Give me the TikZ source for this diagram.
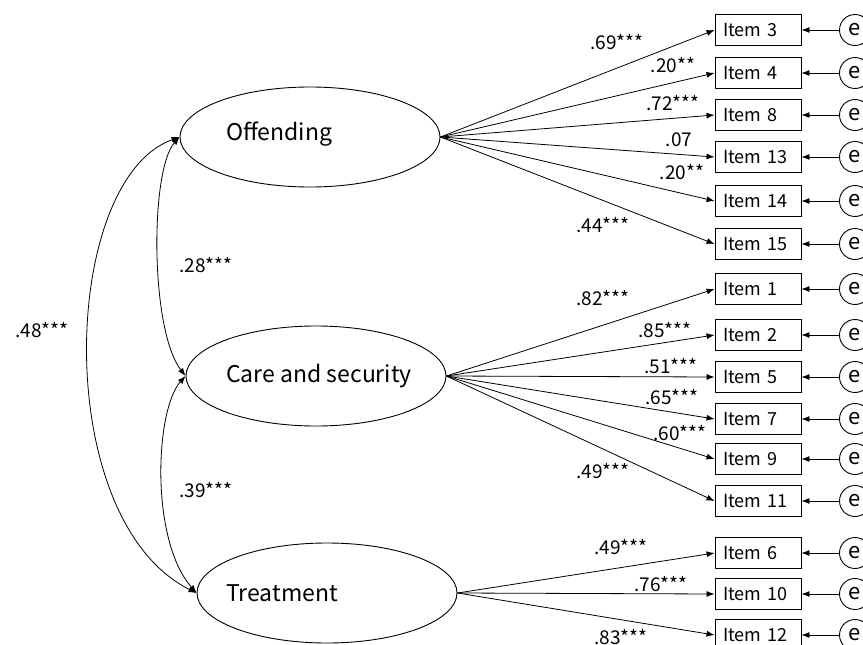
\documentclass[tikz,border=0pt]{standalone}
\usepackage{fontspec}
\setmainfont{Noto Sans CJK JP}
\usetikzlibrary{arrows.meta,shapes.geometric}
\begin{document}
\begin{tikzpicture}[x=1pt,y=-1pt,
 lat/.style={draw,ellipse,minimum width=260pt,minimum height=100pt,inner sep=0pt,line width=0.9pt},
 item/.style={draw,rectangle,minimum height=31pt,text width=70pt,inner xsep=8pt,inner ysep=0pt,align=left,font=\fontsize{18}{18}\selectfont,line width=0.9pt},
 err/.style={draw,circle,minimum size=31pt,inner sep=0pt,font=\fontsize{22}{22}\selectfont,line width=0.9pt},
 coef/.style={font=\fontsize{19}{19}\selectfont,inner sep=0pt},
 ltxt/.style={font=\fontsize{23}{23}\selectfont,anchor=west,inner sep=0pt},
 load/.style={-{Latex[length=8pt,width=6pt]},line width=0.8pt},
 cov/.style={{Latex[length=8pt,width=6pt]}-{Latex[length=8pt,width=6pt]},line width=0.8pt}]
\useasboundingbox (0,0) rectangle (863,645);
% latent variables
\node[lat] (off) at (310,137) {};
\node[lat] (care) at (316,376) {};
\node[lat] (tre) at (327,593) {};
\node[ltxt] (offT) at (226,134) {Offending};
\node[ltxt] (careT) at (226,376) {Care and security};
\node[ltxt] (treT) at (226,593) {Treatment};
% items
\foreach \n/\y in {3/30,4/73,8/115,13/157,14/201,15/244,1/289,2/335,5/377,7/419,9/459,11/501,6/553,10/594,12/635}{
  \node[item] (i\n) at (758,\y) {Item \n};
  \node[err] (e\n) at (855,\y) {e};
  \draw[load] (e\n) -- (i\n);
}
% loadings
\foreach \n in {3,4,8,13,14,15}{\draw[load] (off.east) -- (i\n.west);}
\foreach \n in {1,2,5,7,9,11}{\draw[load] (care.east) -- (i\n.west);}
\foreach \n in {6,10,12}{\draw[load] (tre.east) -- (i\n.west);}
% loading labels
\node[coef] (c3) at (617,42) {.69***};
\node[coef] (c4) at (673,65) {.20**};
\node[coef] (c8) at (673,103) {.72***};
\node[coef] (c13) at (679,140) {.07};
\node[coef] (c14) at (682,172) {.20**};
\node[coef] (c15) at (603,225) {.44***};
\node[coef] (c1) at (603,298) {.82***};
\node[coef] (c2) at (665,330) {.85***};
\node[coef] (c5) at (671,366) {.51***};
\node[coef] (c7) at (672,397) {.65***};
\node[coef] (c9) at (680,433) {.60***};
\node[coef] (c11) at (603,471) {.49***};
\node[coef] (c6) at (621,547) {.49***};
\node[coef] (c10) at (661,584) {.76***};
\node[coef] (c12) at (621,637) {.83***};
% covariances
\draw[cov] (off.west) .. controls (150,170) and (150,330) .. (care.west);
\draw[cov] (care.west) .. controls (155,410) and (150,540) .. (tre.west);
\draw[cov] (off.west) .. controls (60,180) and (50,520) .. (tre.west);
\node[coef] (r1) at (206,265) {.28***};
\node[coef] (r2) at (206,490) {.39***};
\node[coef] (r3) at (42,330) {.48***};
\end{tikzpicture}
\end{document}
